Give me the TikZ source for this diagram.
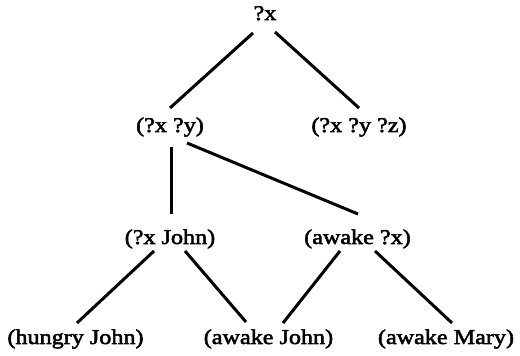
\documentclass[tikz,border=0pt]{standalone}
\usepackage{fontspec}
\setmainfont[FakeStretch=1.15,FakeBold=2.5]{Liberation Serif}
\usetikzlibrary{calc}
\tikzset{
  lbl/.style={anchor=base, inner sep=0pt, font=\fontsize{21}{25}\selectfont},
  edge/.style={line width=3pt, line cap=butt}
}
\begin{document}
\begin{tikzpicture}[x=1pt,y=1pt]
\useasboundingbox (0,0) rectangle (520,356);
\node[lbl] (root) at (265,336) {?x};
\node[lbl] (a) at (170,224) {(?x ?y)};
\node[lbl] (b) at (359,224) {(?x ?y ?z)};
\node[lbl] (c) at (170,112) {(?x John)};
\node[lbl] (d) at (357.5,112) {(awake ?x)};
\node[lbl] (e) at (75.5,12) {(hungry John)};
\node[lbl] (f) at (268.5,12) {(awake John)};
\node[lbl] (g) at (446,12) {(awake Mary)};
\draw[edge] ($(root.base)+(-12,-13)$) -- ($(a.base)+(0,24)$);
\draw[edge] ($(root.base)+(10,-12)$) -- ($(b.base)+(0,24)$);
\draw[edge] ($(a.base)+(1,-15)$) -- ($(c.base)+(1,30)$);
\draw[edge] ($(a.base)+(17,-11)$) -- ($(d.base)+(0.5,30)$);
\draw[edge] ($(c.base)+(-16,-7)$) -- ($(e.base)+(1.5,21)$);
\draw[edge] ($(c.base)+(15,-7)$) -- ($(f.base)+(-22.5,22)$);
\draw[edge] ($(d.base)+(-17.5,-7)$) -- ($(f.base)+(14.5,21)$);
\draw[edge] ($(d.base)+(17.5,-7)$) -- ($(g.base)+(6,21)$);
\end{tikzpicture}
\end{document}
